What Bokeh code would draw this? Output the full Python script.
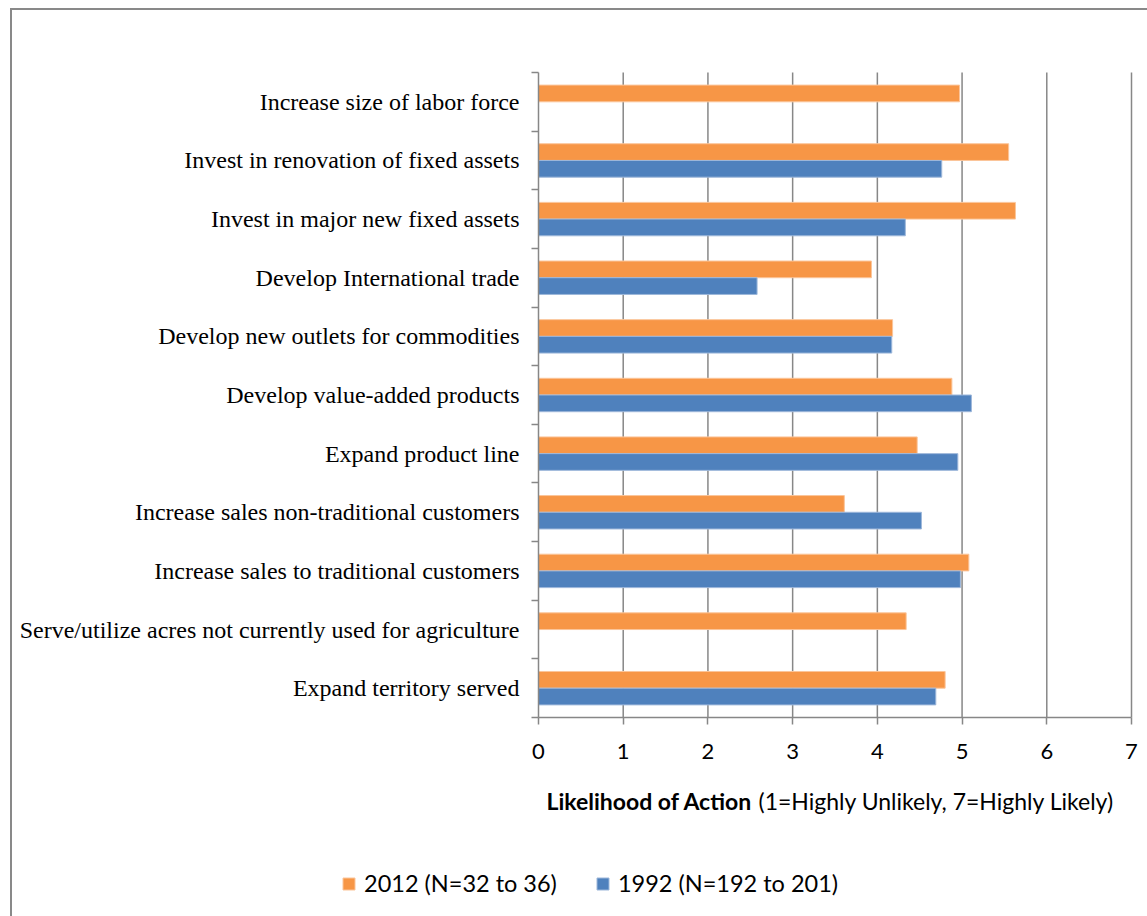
from bokeh.plotting import figure
from bokeh.models import Range1d, FixedTicker, Legend, LegendItem, Label, ColumnDataSource
from bokeh.embed import file_html
from bokeh.resources import INLINE

categories = [
    "Increase size of labor force",
    "Invest in renovation of fixed assets",
    "Invest in major new fixed assets",
    "Develop International trade",
    "Develop new outlets for commodities",
    "Develop value-added products",
    "Expand product line",
    "Increase sales non-traditional customers",
    "Increase sales to traditional customers",
    "Serve/utilize acres not currently used for agriculture",
    "Expand territory served",
]
v2012 = [4.97, 5.55, 5.63, 3.93, 4.18, 4.88, 4.47, 3.61, 5.08, 4.34, 4.80]
v1992 = [None, 4.76, 4.33, 2.58, 4.17, 5.11, 4.95, 4.52, 4.98, None, 4.69]
x_ticks = [0, 1, 2, 3, 4, 5, 6, 7]
series_labels = ["2012 (N=32 to 36)", "1992 (N=192 to 201)"]
axis_bold = "Likelihood of Action"
axis_rest = "(1=Highly Unlikely, 7=Highly Likely)"

ORANGE = "#F79646"
BLUE = "#4F81BD"
GRAY = "#878787"

n = len(categories)
xmax = x_ticks[-1]

# page layout (pixels)
FIG_L, FIG_T, FIG_W, FIG_H = 12, 10, 1135, 906
AX_L, AX_R, AX_T, AX_B = 538, 1131, 72, 717
ux = (AX_R - AX_L) / xmax
uy = (AX_B - AX_T) / n
x0 = -(AX_L - FIG_L) / ux
x1 = xmax + (FIG_L + FIG_W - AX_R) / ux
y0 = -(FIG_T + FIG_H - AX_B) / uy
y1 = n + (AX_T - FIG_T) / uy

centers = [n - i - 0.5 for i in range(n)]
off = 0.1425
bar_h = 0.285

src_o = ColumnDataSource(dict(y=[c + off for c in centers], v=v2012))
ys_b = [c - off for c, v in zip(centers, v1992) if v is not None]
vs_b = [v for v in v1992 if v is not None]
src_b = ColumnDataSource(dict(y=ys_b, v=vs_b))

p = figure(width=FIG_W, height=FIG_H, output_backend="svg", toolbar_location=None,
           x_range=Range1d(x0, x1), y_range=Range1d(y0, y1),
           min_border_left=0, min_border_top=0, min_border_right=0, min_border_bottom=0,
           margin=(FIG_T, 0, 0, FIG_L), styles={"outline": "2px solid #898989"})
p.outline_line_color = None
p.background_fill_color = "white"
p.border_fill_color = "white"
p.xgrid.grid_line_color = None
p.ygrid.grid_line_color = None

# vertical gridlines spanning the category area only
p.segment(x0=x_ticks[1:], y0=0, x1=x_ticks[1:], y1=n, line_color=GRAY, line_width=1.5)

r_o = p.hbar(y="y", right="v", left=0, height=bar_h, source=src_o,
             fill_color=ORANGE, line_color="#FBC59A", line_width=1)
r_b = p.hbar(y="y", right="v", left=0, height=bar_h, source=src_b,
             fill_color=BLUE, line_color="#9DB7DA", line_width=1)

# x axis
xa = p.xaxis[0]
xa.fixed_location = 0
xa.bounds = (0, xmax)
xa.ticker = FixedTicker(ticks=x_ticks)
xa.axis_line_color = GRAY
xa.axis_line_width = 1.5
xa.major_tick_line_color = GRAY
xa.major_tick_line_width = 1.5
xa.major_tick_out = 7
xa.major_tick_in = 0
xa.minor_tick_line_color = None
xa.major_label_text_font = "Lato"
xa.major_label_text_font_size = "22px"
xa.major_label_text_color = "#000000"
xa.major_label_standoff = 19

# y axis
ya = p.yaxis[0]
ya.fixed_location = 0
ya.bounds = (0, n)
ya.ticker = FixedTicker(ticks=centers, minor_ticks=list(range(n + 1)))
ya.major_label_overrides = {c: lab for c, lab in zip(centers, categories)}
ya.axis_line_color = GRAY
ya.axis_line_width = 1.5
ya.major_tick_line_color = None
ya.major_tick_out = 0
ya.major_tick_in = 0
ya.minor_tick_line_color = GRAY
ya.minor_tick_line_width = 1.5
ya.minor_tick_out = 7
ya.minor_tick_in = 0
ya.major_label_text_font = "Liberation Serif"
ya.major_label_text_font_size = "24px"
ya.major_label_text_color = "#000000"
ya.major_label_standoff = 12

# axis title (bold + normal parts)
title_y = -(800 - AX_B) / uy
p.add_layout(Label(x=(546 - AX_L) / ux, y=title_y, text=axis_bold, text_font="Lato",
                   text_font_style="bold", text_font_size="23px", text_baseline="alphabetic",
                   text_color="#000000"))
p.add_layout(Label(x=(758 - AX_L) / ux, y=title_y, text=axis_rest, text_font="Lato",
                   text_font_size="23px", text_baseline="alphabetic", text_color="#000000"))

legend = Legend(items=[LegendItem(label=series_labels[0], renderers=[r_o]),
                       LegendItem(label=series_labels[1], renderers=[r_b])],
                orientation="horizontal", location=(341 - FIG_L, 916 - 897),
                glyph_width=15, glyph_height=15, label_standoff=8, spacing=38,
                padding=0, margin=0, border_line_color=None, background_fill_alpha=0,
                label_text_font="Lato", label_text_font_size="23.5px", label_text_color="#000000")
p.add_layout(legend)

open("out.html", "w").write(file_html(p, INLINE))
